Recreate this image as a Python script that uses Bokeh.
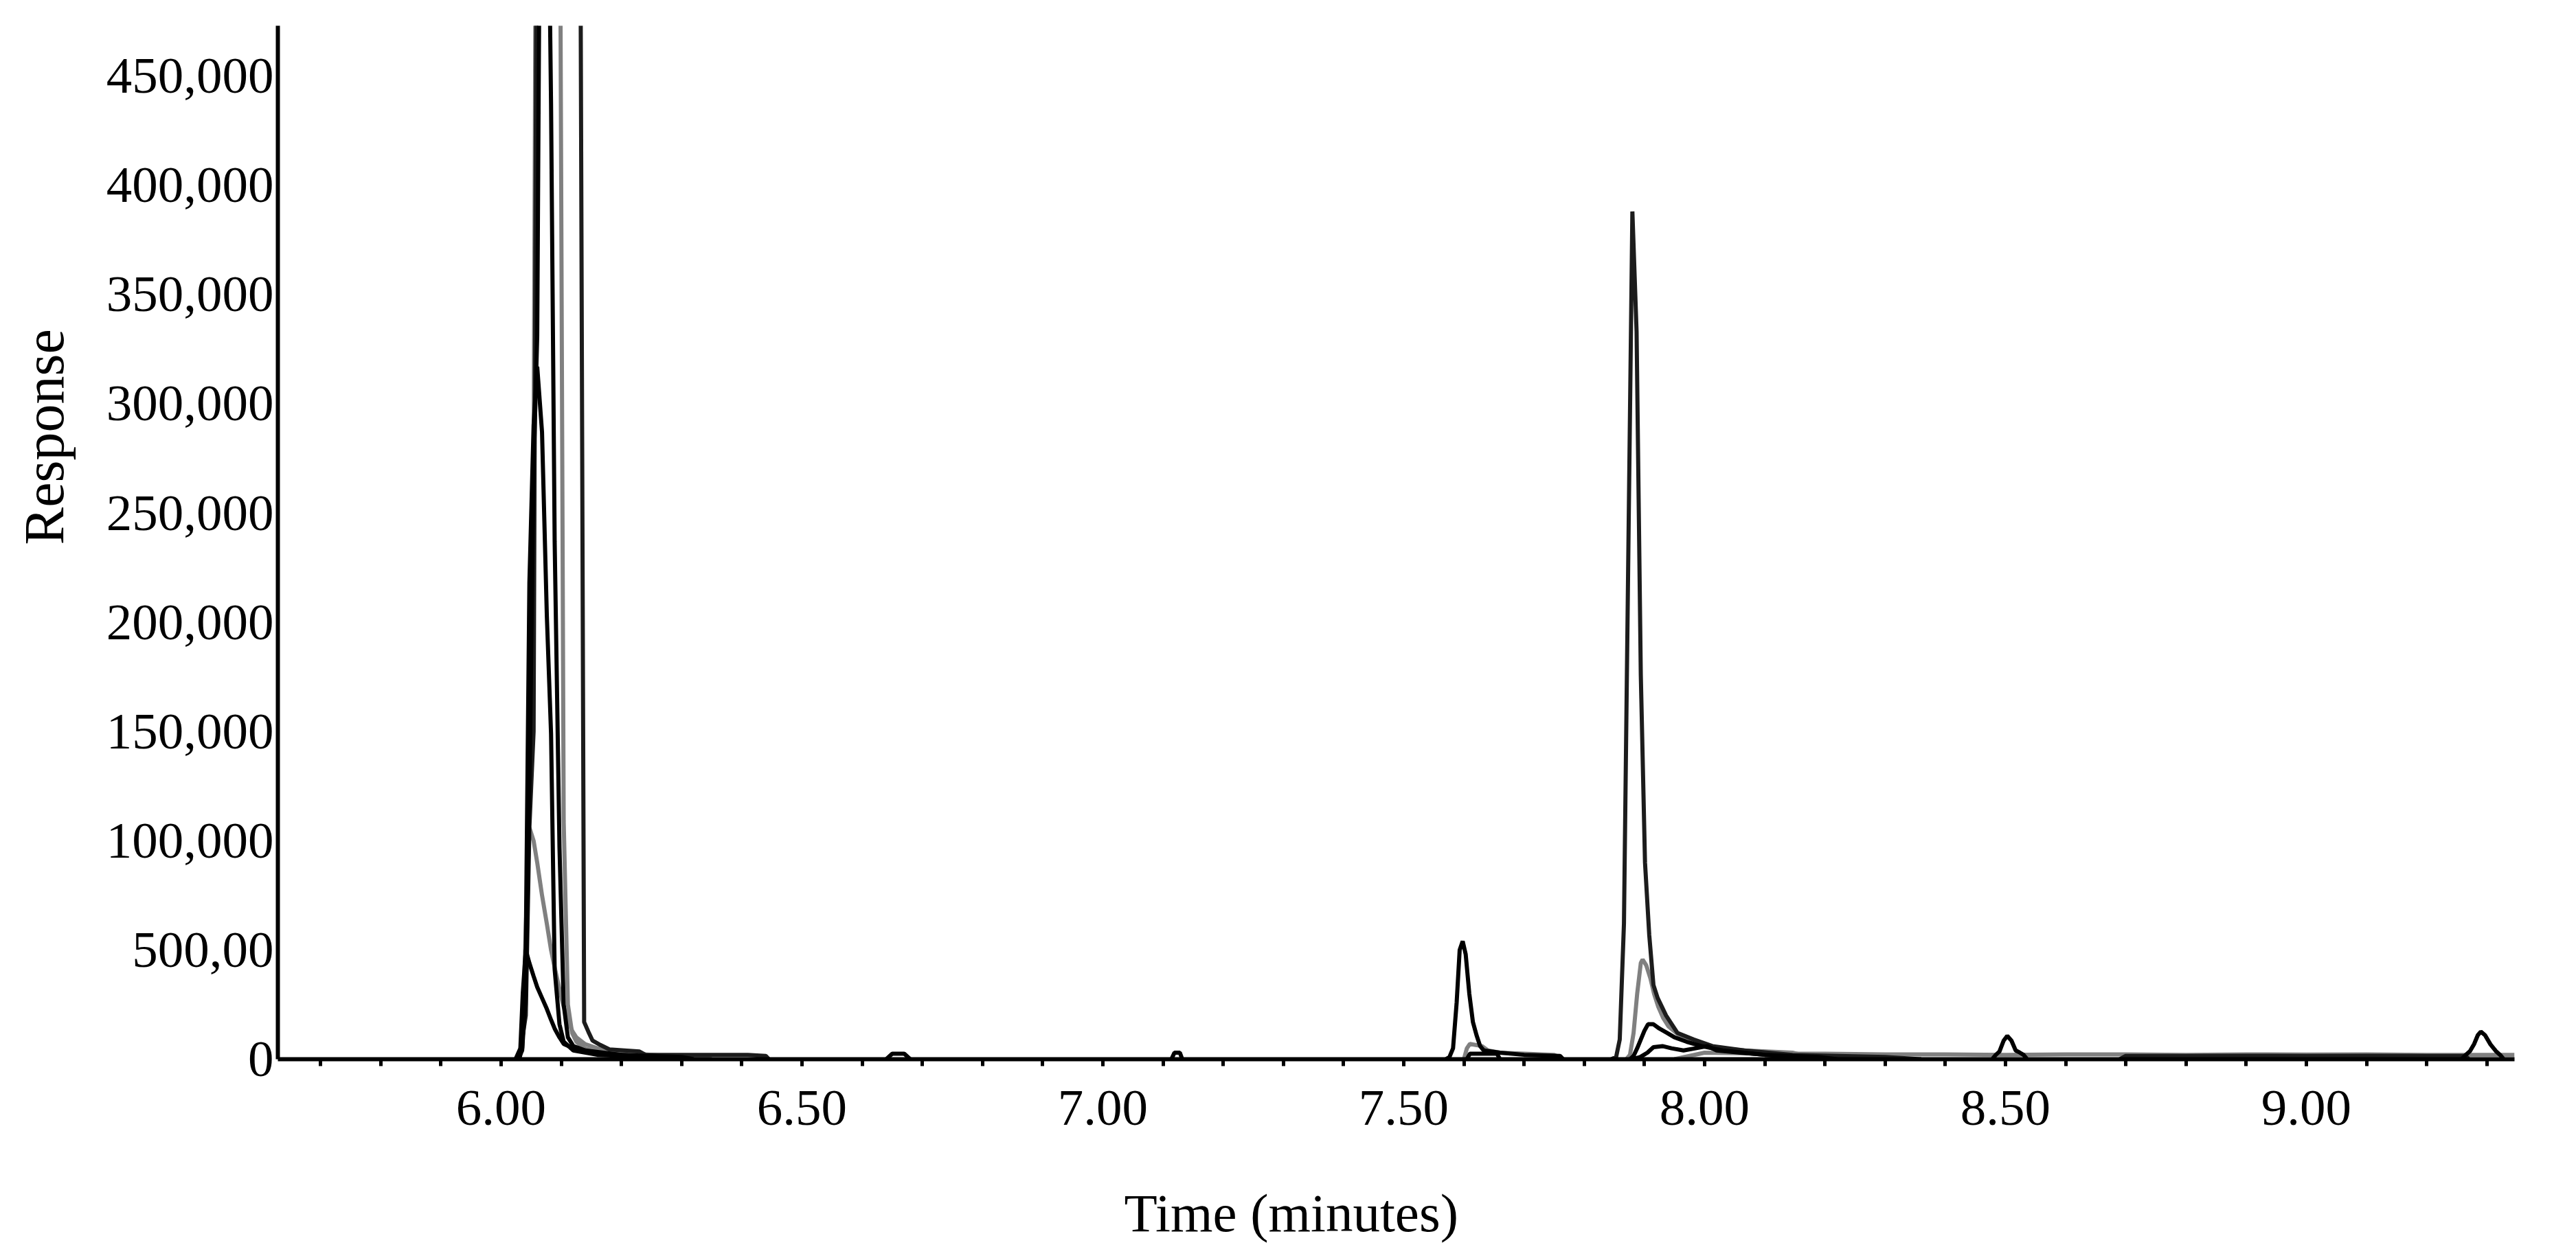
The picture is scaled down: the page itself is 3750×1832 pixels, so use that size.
from bokeh.plotting import figure
from bokeh.models import Range1d, SingleIntervalTicker, FixedTicker, PrintfTickFormatter, Title
from bokeh.embed import file_html
from bokeh.resources import INLINE

# ---------------- data ----------------
y_ticks = [0, 50000, 100000, 150000, 200000, 250000, 300000, 350000, 400000, 450000]
y_tick_labels = ["0", "500,00", "100,000", "150,000", "200,000", "250,000",
                 "300,000", "350,000", "400,000", "450,000"]
x_axis_title = "Time (minutes)"
y_axis_title = "Response"

# cluster at ~6.05 min
t_d1 = [6.030, 6.041, 6.047, 6.054, 6.060, 6.068, 6.076, 6.083, 6.089, 6.097, 6.104, 6.111,
        6.118, 6.125, 6.132, 6.138, 6.145, 6.152, 6.165, 6.180, 6.230, 6.240, 6.410, 6.440, 6.445]
r_d1 = [0, 20000, 106000, 150000, 600000, 1400000, 1800000, 1900000, 1800000, 1600000, 1300000,
        1000000, 800000, 650000, 500000, 17000, 12600, 8500, 6500, 4500, 3500, 2000, 2000, 1500, 0]

t_g1 = [6.030, 6.041, 6.047, 6.054, 6.060, 6.068, 6.076, 6.083, 6.089, 6.097, 6.104, 6.111,
        6.118, 6.125, 6.139, 6.163, 6.200, 6.300, 6.350]
r_g1 = [0, 25000, 150000, 270000, 700000, 1200000, 1500000, 1400000, 1000000, 600000, 109000,
        25000, 12000, 8000, 5000, 3000, 2000, 1000, 0]

t_b1 = [6.028, 6.035, 6.041, 6.047, 6.054, 6.060, 6.068, 6.076, 6.083, 6.089, 6.097, 6.104,
        6.111, 6.120, 6.140, 6.200, 6.300, 6.320]
r_b1 = [0, 4000, 30000, 120000, 270000, 331000, 700000, 600000, 437000, 237000, 97000, 25000,
        10000, 6000, 4000, 2000, 1000, 0]

t_b2 = [6.030, 6.035, 6.041, 6.047, 6.054, 6.060, 6.068, 6.076, 6.083, 6.089, 6.097, 6.104,
        6.120, 6.160, 6.250, 6.300]
r_b2 = [0, 5000, 51000, 218000, 290000, 317000, 287000, 203000, 149000, 41000, 16000, 8000,
        4000, 2000, 1000, 0]

t_g2 = [6.026, 6.035, 6.041, 6.047, 6.054, 6.060, 6.068, 6.076, 6.083, 6.089, 6.097, 6.104,
        6.111, 6.118, 6.125, 6.139, 6.160, 6.200, 6.250, 6.300, 6.350]
r_g2 = [0, 5000, 60000, 106000, 100000, 90000, 75000, 62000, 50000, 42000, 32000, 24000,
        18000, 13000, 10000, 7000, 5000, 3000, 2000, 1000, 0]

t_b3 = [6.024, 6.032, 6.036, 6.041, 6.047, 6.054, 6.060, 6.068, 6.076, 6.083, 6.089, 6.097,
        6.104, 6.120, 6.150, 6.200, 6.300]
r_b3 = [0, 5000, 30000, 50000, 44000, 38000, 33000, 28000, 23000, 18000, 14000, 10000,
        7000, 5000, 3000, 2000, 0]

# small blips
t_s1 = [6.640, 6.650, 6.670, 6.680]
r_s1 = [0, 2500, 2500, 0]
t_s2 = [7.114, 7.119, 7.128, 7.132]
r_s2 = [0, 3000, 3000, 0]

# peak at ~7.60 min
t_p1 = [7.570, 7.576, 7.582, 7.588, 7.593, 7.598, 7.603, 7.609, 7.615, 7.621, 7.627, 7.633,
        7.660, 7.700, 7.760, 7.765]
r_p1 = [0, 1000, 5000, 26000, 50000, 54000, 48000, 30000, 17000, 11000, 6000, 4000,
        3000, 2000, 1500, 0]
t_p2 = [7.600, 7.605, 7.610, 7.630, 7.640, 7.660, 7.750, 7.765]
r_p2 = [0, 5000, 7000, 6000, 4000, 3000, 2000, 0]
t_p3 = [7.605, 7.610, 7.655, 7.660]
r_p3 = [0, 2500, 2500, 0]

# peaks at ~7.88 min
t_q1 = [7.845, 7.853, 7.859, 7.866, 7.873, 7.880, 7.887, 7.894, 7.901, 7.908, 7.915, 7.922,
        7.936, 7.955, 7.982, 8.013, 8.066, 8.146, 8.300, 8.360]
r_q1 = [0, 1000, 9000, 62000, 225000, 388000, 333000, 176000, 90000, 57000, 34000, 28000,
        20000, 12000, 9000, 6000, 4000, 2000, 1000, 0]
t_q2 = [7.870, 7.876, 7.882, 7.888, 7.894, 7.897, 7.903, 7.910, 7.916, 7.923, 7.931, 7.940,
        7.953, 7.966, 7.984, 8.001, 8.023, 8.067, 8.146, 8.190]
r_q2 = [0, 2000, 12000, 30000, 44000, 45600, 43000, 37000, 30000, 24000, 19000, 15000,
        12000, 9500, 7500, 6000, 5000, 4000, 3000, 0]
t_q3 = [7.876, 7.882, 7.888, 7.894, 7.900, 7.906, 7.915, 7.925, 7.938, 7.950, 7.970, 7.995,
        8.030, 8.100, 8.190, 8.220]
r_q3 = [0, 1500, 5000, 9000, 13000, 16000, 16000, 14000, 12000, 10000, 8000, 6000,
        4000, 2000, 1000, 0]
t_q4 = [7.880, 7.893, 7.905, 7.915, 7.930, 7.945, 7.965, 7.985, 8.005, 8.020, 8.060, 8.100,
        8.150, 8.200]
r_q4 = [0, 1000, 3000, 5500, 6000, 5000, 4000, 5000, 6000, 4000, 3000, 2000, 1000, 0]

# small peaks at ~8.50 and ~9.29 min
t_r1 = [8.478, 8.484, 8.490, 8.497, 8.503, 8.510, 8.517, 8.524, 8.530, 8.536]
r_r1 = [0, 2000, 3500, 8500, 10700, 8500, 4000, 3000, 2000, 0]
t_r2 = [9.258, 9.265, 9.272, 9.279, 9.285, 9.290, 9.297, 9.306, 9.315, 9.322, 9.328]
r_r2 = [0, 2000, 3700, 7000, 11000, 12600, 11000, 6800, 3700, 2000, 0]

# low baseline band after 8 min
t_ba = [7.950, 8.000, 8.100, 8.200, 8.300, 8.400, 8.500, 8.600, 8.700, 8.800, 8.900, 9.000,
        9.100, 9.200, 9.300, 9.346]
r_ba = [0, 3000, 2500, 2500, 2200, 2200, 2000, 2200, 2200, 2000, 2200, 2100, 2200, 2000,
        2000, 2000]
t_bb = [8.690, 8.700, 8.800, 8.900, 9.000, 9.100, 9.200, 9.265, 9.270]
r_bb = [0, 1500, 1500, 1600, 1500, 1600, 1500, 1500, 0]

# ---------------- figure ----------------
SERIF = "Liberation Serif"
p = figure(width=3734, height=1816, output_backend="svg", toolbar_location=None,
           x_range=Range1d(5.629, 9.346), y_range=Range1d(0, 473000),
           min_border_left=404, min_border_right=74, min_border_top=37, min_border_bottom=274,
           background_fill_color="white", border_fill_color="white")
p.outline_line_color = None
p.xgrid.visible = False
p.ygrid.visible = False

GRAY = "#808080"
DARK = "#1c1c1c"
BLACK = "#000000"
LW = 6

gray_traces = [(t_g1, r_g1), (t_g2, r_g2), (t_p2, r_p2), (t_q2, r_q2), (t_ba, r_ba)]
dark_traces = [(t_d1, r_d1), (t_q1, r_q1), (t_bb, r_bb)]
black_traces = [(t_b1, r_b1), (t_b2, r_b2), (t_b3, r_b3), (t_s1, r_s1), (t_s2, r_s2),
                (t_p1, r_p1), (t_p3, r_p3), (t_q3, r_q3), (t_q4, r_q4), (t_r1, r_r1), (t_r2, r_r2)]
for t, r in gray_traces:
    p.line(t, r, line_color=GRAY, line_width=LW)
for t, r in dark_traces:
    p.line(t, r, line_color=DARK, line_width=LW)
for t, r in black_traces:
    p.line(t, r, line_color=BLACK, line_width=LW)

# x axis
xa = p.xaxis[0]
xa.ticker = SingleIntervalTicker(interval=0.5, num_minor_ticks=5)
xa.formatter = PrintfTickFormatter(format="%.2f")
xa.axis_line_width = 6
xa.axis_line_color = "black"
xa.major_tick_line_width = 5
xa.minor_tick_line_width = 5
xa.major_tick_line_color = "black"
xa.minor_tick_line_color = "black"
xa.major_tick_out = 10
xa.major_tick_in = 0
xa.minor_tick_out = 10
xa.minor_tick_in = 0
xa.major_label_text_font = SERIF
xa.major_label_text_font_size = "75px"
xa.major_label_text_color = "black"
xa.major_label_standoff = 36
# blank axis label used only as spacing before the title below
xa.axis_label = " "
xa.axis_label_text_font_size = "20px"
xa.axis_label_standoff = 50

# y axis
ya = p.yaxis[0]
ya.ticker = FixedTicker(ticks=y_ticks)
ya.major_label_overrides = {v: s for v, s in zip(y_ticks, y_tick_labels)}
ya.axis_line_width = 6
ya.axis_line_color = "black"
ya.major_tick_line_color = None
ya.minor_tick_line_color = None
ya.major_tick_out = 0
ya.major_tick_in = 0
ya.minor_tick_out = 0
ya.minor_tick_in = 0
ya.major_label_text_font = SERIF
ya.major_label_text_font_size = "75px"
ya.major_label_text_color = "black"
ya.major_label_standoff = 6
ya.axis_label = " "
ya.axis_label_text_font_size = "20px"
ya.axis_label_standoff = 12

# axis titles (side titles, offset so they sit where they are in the reference)
p.add_layout(Title(text=x_axis_title, align="left", offset=1232,
                   text_font=SERIF, text_font_size="79px", text_font_style="normal",
                   text_color="black", standoff=10), "below")
p.add_layout(Title(text=y_axis_title, align="left", offset=749,
                   text_font=SERIF, text_font_size="82px", text_font_style="normal",
                   text_color="black", standoff=10), "left")

open("out.html", "w").write(file_html(p, INLINE))
